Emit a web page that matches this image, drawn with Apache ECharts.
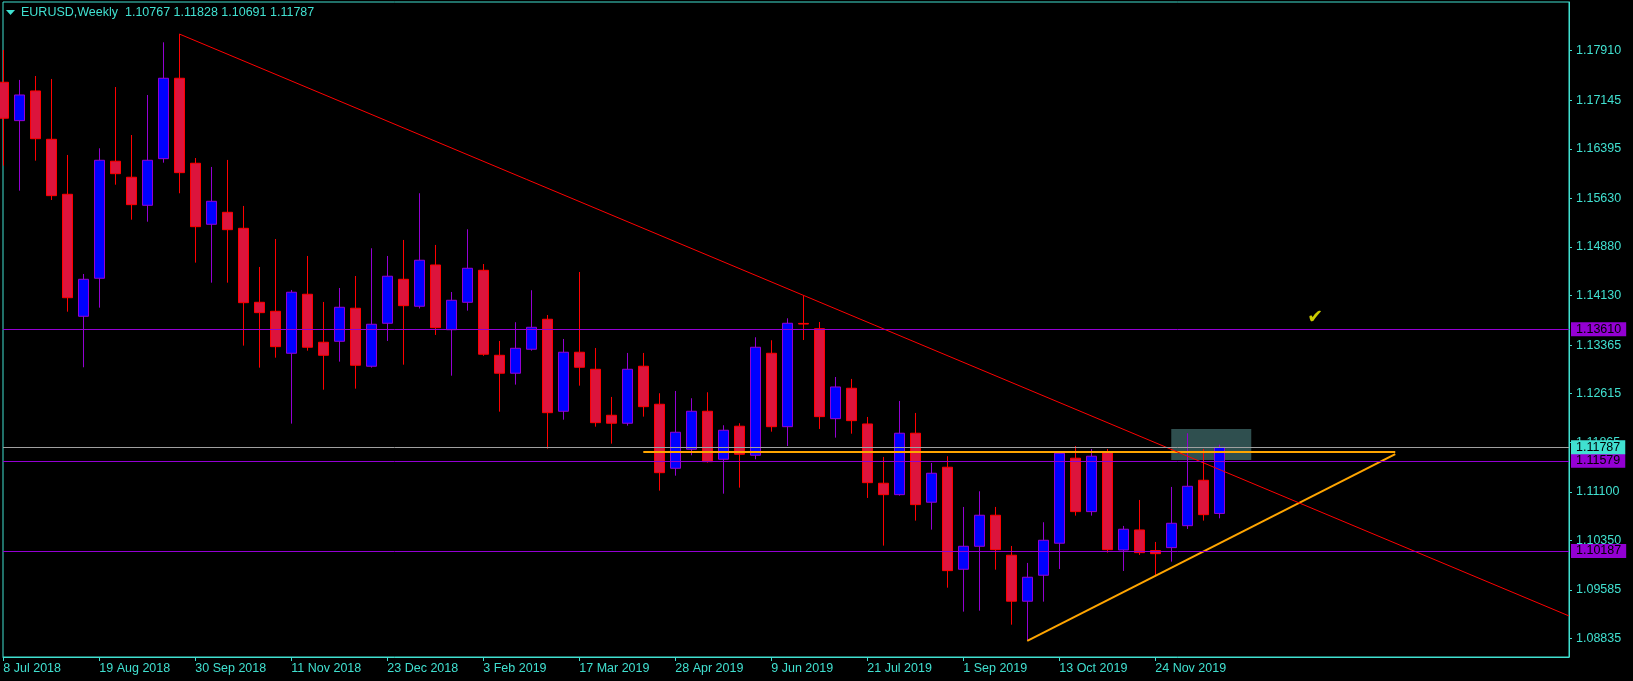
<!DOCTYPE html>
<html><head><meta charset="utf-8">
<script src="https://cdn.jsdelivr.net/npm/echarts@6/dist/echarts.min.js"></script>
<style>html,body{margin:0;padding:0;background:#000;}#c{width:1633px;height:681px;}</style>
</head><body><div id="c"></div>
<script>
const symbolName = 'EURUSD,Weekly';
const opens  = [1.17422,1.16830,1.17288,1.16542,1.15693,1.13810,1.14397,1.16203,1.15956,1.15523,1.16243,1.17484,1.16172,1.15230,1.15415,1.15168,1.14026,1.13887,1.13239,1.14150,1.13409,1.13424,1.13934,1.13039,1.13702,1.14381,1.13965,1.14602,1.13603,1.14026,1.14520,1.13208,1.12931,1.13301,1.13764,1.12344,1.13255,1.12992,1.12282,1.12159,1.13039,1.12452,1.11464,1.11758,1.12344,1.11603,1.12113,1.11665,1.13239,1.12106,1.13700,1.13619,1.12230,1.12699,1.12148,1.11233,1.11057,1.12005,1.10940,1.11480,1.09905,1.10260,1.10739,1.10122,1.09412,1.09813,1.10307,1.11619,1.10795,1.11711,1.10203,1.10512,1.10193,1.10239,1.10578,1.11279,1.10767];
const highs  = [1.17921,1.17458,1.17519,1.17473,1.16300,1.14463,1.16403,1.17349,1.16608,1.17226,1.18039,1.18167,1.16253,1.16115,1.16223,1.15513,1.14571,1.15003,1.14216,1.14741,1.14031,1.14247,1.14432,1.14860,1.14741,1.14988,1.15709,1.14911,1.14185,1.15153,1.14617,1.13429,1.13718,1.14212,1.13830,1.13460,1.14494,1.13321,1.12565,1.13244,1.13244,1.12622,1.12657,1.12545,1.12637,1.12128,1.12159,1.13486,1.13440,1.13779,1.14128,1.13722,1.12873,1.12843,1.12256,1.11639,1.12503,1.12318,1.11546,1.11650,1.10867,1.11109,1.10867,1.10265,1.10003,1.10631,1.11716,1.11808,1.11762,1.11762,1.10574,1.10975,1.10327,1.11176,1.12005,1.11762,1.11828];
const lows   = [1.16135,1.15749,1.16212,1.15605,1.13881,1.13023,1.13943,1.15841,1.15301,1.15270,1.16181,1.15709,1.14638,1.14329,1.14329,1.13357,1.13017,1.13171,1.12153,1.13279,1.12677,1.13110,1.12693,1.13017,1.13429,1.13063,1.13930,1.13522,1.12893,1.13897,1.13200,1.12338,1.12755,1.13279,1.11767,1.12214,1.12739,1.12106,1.11844,1.12122,1.12261,1.11119,1.11350,1.11665,1.11551,1.11072,1.11165,1.11603,1.12029,1.11808,1.13444,1.12071,1.11937,1.11998,1.11006,1.10270,1.11041,1.10656,1.10517,1.09621,1.09251,1.09266,1.09899,1.09050,1.08799,1.09405,1.09910,1.10733,1.10733,1.10162,1.09879,1.10126,1.09817,1.10023,1.10527,1.10656,1.10691];
const closes = [1.16867,1.17226,1.16551,1.15672,1.14097,1.14381,1.16218,1.16011,1.15533,1.16218,1.17484,1.16027,1.15193,1.15585,1.15147,1.14020,1.13866,1.13341,1.14181,1.13332,1.13208,1.13949,1.13054,1.13687,1.14428,1.13974,1.14675,1.13634,1.14057,1.14551,1.13224,1.12931,1.13316,1.13640,1.12322,1.13255,1.13023,1.12168,1.12159,1.12992,1.12415,1.11396,1.12020,1.12344,1.11566,1.12051,1.11680,1.13332,1.12106,1.13702,1.13690,1.12261,1.12719,1.12199,1.11242,1.11057,1.12005,1.10903,1.11387,1.09884,1.10260,1.10739,1.10208,1.09412,1.09782,1.10353,1.11696,1.10795,1.11650,1.10208,1.10523,1.10162,1.10146,1.10615,1.11186,1.10748,1.11787];

const xLabelIdx = [0,6,12,18,24,30,36,42,48,54,60,66,72];
const xLabels = ['8 Jul 2018','19 Aug 2018','30 Sep 2018','11 Nov 2018','23 Dec 2018','3 Feb 2019','17 Mar 2019','28 Apr 2019','9 Jun 2019','21 Jul 2019','1 Sep 2019','13 Oct 2019','24 Nov 2019'];
const yTicks = [1.17910,1.17145,1.16395,1.15630,1.14880,1.14130,1.13365,1.12615,1.11865,1.11100,1.10350,1.09585,1.08835];

const levels = [1.13610, 1.11579, 1.10187];
const bidPrice = 1.11787;
const downTrend = [[11, 1.18167], [97.86, 1.09185]];
const upTrend = [[64, 1.08799], [87, 1.11681]];
const flatLine = [[40, 1.11716], [87, 1.11716]];
const zone = [[73, 1.12071], [78, 1.11593]];
const checkPt = [[82, 1.13784]];

const FG = '#40E0D0';
const FONT = "'Liberation Sans', Arial, sans-serif";
const FS = 12.5;
const X_MIN = -0.02, X_MAX = 97.86, Y_MIN = 1.08551, Y_MAX = 1.18661;

const candleData = opens.map((o, i) => [i, o, closes[i], lows[i], highs[i]]);
const tagLabel = (bg) => ({
  show: true, position: 'end', distance: 2,
  formatter: (p) => Number(p.value).toFixed(5),
  color: '#000', backgroundColor: bg, fontSize: FS, fontFamily: FONT,
  padding: [1, 5, 1, 5], lineHeight: 12
});

const chart = echarts.init(document.getElementById('c'), null, {renderer: 'canvas'});
chart.setOption({
  backgroundColor: '#000',
  animation: false,
  title: {
    text: symbolName + '  ' + [opens[76], highs[76], lows[76], closes[76]].map(v => v.toFixed(5)).join(' '),
    left: 21, top: 6, padding: 0,
    textStyle: {color: FG, fontSize: FS, fontWeight: 'normal', fontFamily: FONT}
  },
  graphic: [{type: 'polygon', shape: {points: [[6, 10], [15, 10], [10.5, 15]]}, style: {fill: FG}}],
  grid: {left: 3, right: 64, top: 2, bottom: 24, show: true, borderColor: FG, borderWidth: 1, backgroundColor: 'transparent', containLabel: false, outerBoundsMode: 'none'},
  xAxis: {
    type: 'value', min: X_MIN, max: X_MAX,
    splitLine: {show: false},
    axisLine: {show: true, onZero: false, lineStyle: {color: FG, width: 1}},
    axisTick: {show: true, length: 4, customValues: xLabelIdx, lineStyle: {color: FG}},
    axisLabel: {
      show: true, customValues: xLabelIdx, align: 'left', margin: 5,
      color: FG, fontSize: FS, fontFamily: FONT,
      formatter: (v) => { const k = xLabelIdx.indexOf(Math.round(v)); return k >= 0 ? xLabels[k] : ''; }
    }
  },
  yAxis: {
    type: 'value', position: 'right', min: Y_MIN, max: Y_MAX, scale: true,
    splitLine: {show: false},
    axisLine: {show: true, onZero: false, lineStyle: {color: FG, width: 1}},
    axisTick: {show: true, length: 3, customValues: yTicks, lineStyle: {color: FG}},
    axisLabel: {
      show: true, customValues: yTicks, margin: 7,
      color: FG, fontSize: FS, fontFamily: FONT,
      formatter: (v) => v.toFixed(5)
    }
  },
  series: [
    {
      name: 'zone', type: 'line', data: [], z: 1, silent: true,
      markArea: {silent: true, itemStyle: {color: '#2F4F4F'},
        data: [[{coord: zone[0]}, {coord: zone[1]}]]}
    },
    {
      name: 'EURUSD', type: 'candlestick', data: candleData, z: 2,
      barWidth: 10, clip: true,
      itemStyle: {color: '#0000FF', color0: '#DC143C', borderColor: '#9400D3', borderColor0: '#FF0000', borderColorDoji: '#FF0000', borderWidth: 1}
    },
    {
      name: 'levels', type: 'line', data: [], z: 3, silent: true, clip: false,
      markLine: {
        symbol: ['none', 'none'], silent: true, animation: false, precision: 5,
        data: levels.map(v => ({yAxis: v, lineStyle: {color: '#9400D3', width: 1, type: 'solid'}, label: tagLabel('#9400D3')}))
          .concat([{yAxis: bidPrice, lineStyle: {color: '#A0A0A0', width: 1, type: 'solid'}, label: tagLabel(FG)}])
      }
    },
    {name: 'flat', type: 'line', data: flatLine, z: 4, symbol: 'none', silent: true, lineStyle: {color: '#FFA500', width: 2}},
    {name: 'up', type: 'line', data: upTrend, z: 4, symbol: 'none', silent: true, lineStyle: {color: '#FFA500', width: 2}},
    {name: 'down', type: 'line', data: downTrend, z: 4, symbol: 'none', silent: true, lineStyle: {color: '#FF0000', width: 1}},
    {
      name: 'check', type: 'scatter', data: checkPt, z: 5, symbol: 'circle', symbolSize: 1, silent: true,
      itemStyle: {color: 'rgba(0,0,0,0)'},
      label: {show: true, position: 'inside', formatter: '\u2714', color: '#FFFF00', fontSize: 19, fontFamily: "'DejaVu Sans', sans-serif"}
    }
  ]
});
</script></body></html>
